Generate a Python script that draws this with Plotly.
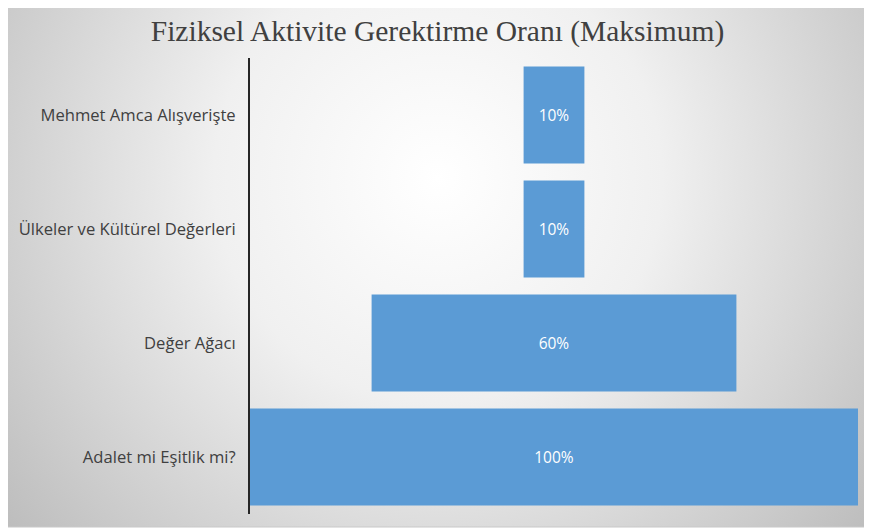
import base64
import plotly.graph_objects as go

categories = ["Mehmet Amca Alışverişte", "Ülkeler ve Kültürel Değerleri", "Değer Ağacı", "Adalet mi Eşitlik mi?"]
values = [10, 10, 60, 100]
labels = [f"{v}%" for v in values]
title = "Fiziksel Aktivite Gerektirme Oranı (Maksimum)"

# page is rendered with an 8px body offset; compensate
OFF = 8
W, H = 872, 530
L, R, T, B = 250 - OFF, 22, 58 - OFF, 24
pw, ph = W - L - R, H - T - B

svg = f'''<svg xmlns="http://www.w3.org/2000/svg" width="{W}" height="{H}" viewBox="0 0 {W} {H}">
<defs><radialGradient id="g" gradientUnits="userSpaceOnUse" cx="430" cy="170" r="560">
<stop offset="0%" stop-color="#ffffff"/><stop offset="40%" stop-color="#f0f0f0"/><stop offset="100%" stop-color="#bcbcbc"/>
</radialGradient></defs>
<rect x="0" y="0" width="{W}" height="{H}" fill="#ffffff"/>
<rect x="-10" y="-10" width="{W-12+10}" height="{H-11+10}" fill="url(#g)" stroke="#c8c8c8" stroke-width="1"/>
</svg>'''
src = "data:image/svg+xml;base64," + base64.b64encode(svg.encode()).decode()

fig = go.Figure(go.Funnel(
    y=categories,
    x=values,
    text=labels,
    textinfo="text",
    textposition="inside",
    insidetextanchor="middle",
    textfont=dict(family="Open Sans, Lato, sans-serif", size=15.5, color="#ffffff"),
    marker=dict(color="#5B9BD5", line=dict(width=0)),
    connector=dict(visible=False),
    hoverinfo="y+x",
))

fig.update_layout(
    width=W, height=H,
    margin=dict(l=L, r=R, t=T, b=B),
    paper_bgcolor="#ffffff",
    plot_bgcolor="rgba(0,0,0,0)",
    funnelgap=0.15,
    showlegend=False,
    title=dict(text=title, x=(437.5 - OFF) / W, xanchor="center", xref="container",
               y=1 - (31 - OFF) / H, yanchor="middle",
               font=dict(family="Liberation Serif, Times New Roman, serif", size=29.5, color="#404040")),
    xaxis=dict(range=[-50, 50], visible=False, fixedrange=True),
    yaxis=dict(showline=True, linecolor="#262626", linewidth=2, ticks="", showgrid=False,
               zeroline=False, ticklabelstandoff=9,
               tickfont=dict(family="Open Sans, Lato, sans-serif", size=16.6, color="#404040")),
    images=[dict(source=src, xref="paper", yref="paper", x=-L / pw, y=1 + T / ph,
                 sizex=W / pw, sizey=H / ph, sizing="stretch", xanchor="left", yanchor="top",
                 layer="below")],
)

fig.write_html("out.html")
